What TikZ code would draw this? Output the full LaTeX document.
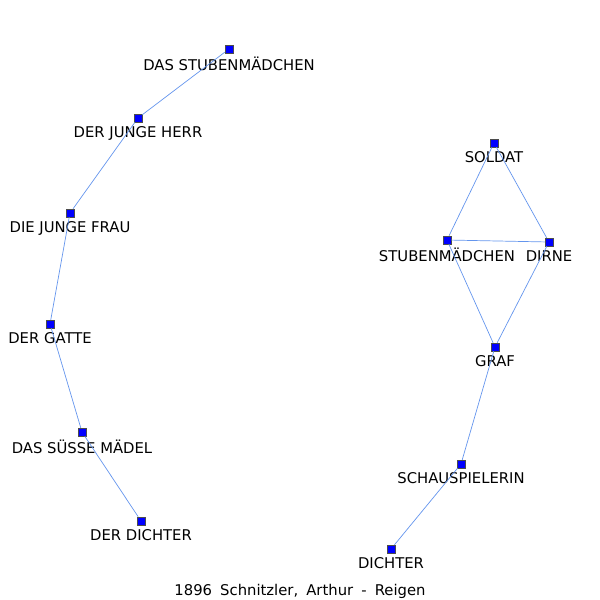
\documentclass[tikz,border=0pt]{standalone}
\usepackage{fontspec}
\setmainfont{DejaVu Sans}
\definecolor{edgeblue}{RGB}{100,149,237}
\tikzset{
  person/.style={draw=black!70, fill=blue, minimum size=8pt, inner sep=0pt, line width=0.5pt},
  rolle/.style={font=\fontsize{14.8}{17}\selectfont, inner sep=0pt, yshift=-4pt},
  tie/.style={edgeblue, line width=0.7pt}
}
\begin{document}
\begin{tikzpicture}[x=1pt, y=-1pt]
            \useasboundingbox (0,0) rectangle (600,600);

            % erste Kette
            \node[person, label={[rolle]below:DAS STUBENMÄDCHEN}] (stubm) at (229,49) {};
            \node[person, label={[rolle]below:DER JUNGE HERR}] (herr) at (138,118) {};
            \node[person, label={[rolle]below:DIE JUNGE FRAU}] (frau) at (70,213) {};
            \node[person, label={[rolle]below:DER GATTE}] (gatte) at (50,324) {};
            \node[person, label={[rolle]below:DAS SÜSSE MÄDEL}] (suess) at (82,432) {};
            \node[person, label={[rolle]below:DER DICHTER}] (derdichter) at (141,521) {};

            % zweite Gruppe
            \node[person, label={[rolle]below:SOLDAT}] (soldat) at (494,143) {};
            \node[person, label={[rolle]below:STUBENMÄDCHEN}] (stuben) at (447,240) {};
            \node[person, label={[rolle]below:DIRNE}] (dirne) at (549,242) {};
            \node[person, label={[rolle]below:GRAF}] (graf) at (495,347) {};
            \node[person, label={[rolle]below:SCHAUSPIELERIN}] (schau) at (461,464) {};
            \node[person, label={[rolle]below:DICHTER}] (dichter) at (391,549) {};

            \draw[tie] (stubm) -- (herr) -- (frau) -- (gatte) -- (suess) -- (derdichter);
            \draw[tie] (soldat) -- (stuben) -- (dirne) -- (soldat);
            \draw[tie] (stuben) -- (graf) -- (dirne);
            \draw[tie] (graf) -- (schau) -- (dichter);

            \node[font=\fontsize{14.8}{17}\selectfont] (titel) at (300,591)
              {1896\hspace{0.55em}Schnitzler,\hspace{0.55em}Arthur\hspace{0.55em}-\hspace{0.55em}Reigen};
        \end{tikzpicture}
\end{document}
